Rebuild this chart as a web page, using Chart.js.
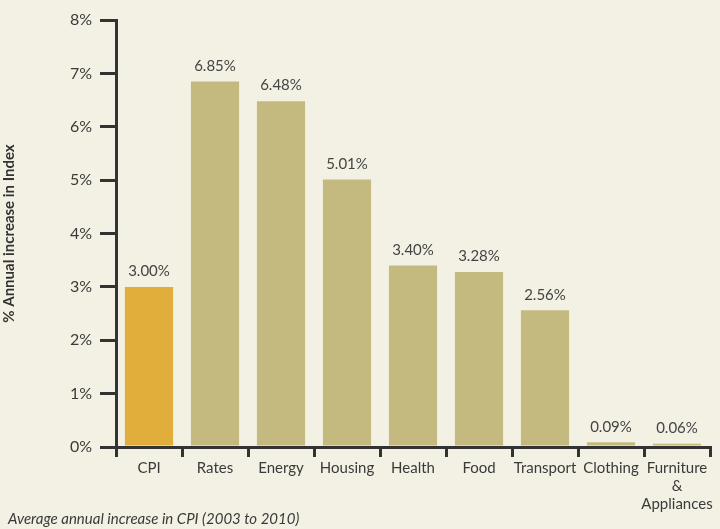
<!DOCTYPE html>
<html lang="en">
<head>
  <meta charset="UTF-8">
  <title>Average annual increase in CPI</title>
  <script src="https://cdn.jsdelivr.net/npm/chart.js"></script>
  <style>
    html, body {
      margin: 0;
      padding: 0;
      background-color: #f3f1e4;
    }
    #wrap {
      position: relative;
      width: 720px;
      height: 529px;
    }
    #caption {
      position: absolute;
      left: 8px;
      top: 509px;
      font-family: Lato, sans-serif;
      font-style: italic;
      font-size: 15px;
      color: #3a3a3a;
    }
  </style>
</head>
<body>
  <div id="wrap">
    <canvas id="cpiChart" width="720" height="529"></canvas>
    <div id="caption">Average annual increase in CPI (2003 to 2010)</div>
  </div>

  <script>
    const categories = ['CPI', 'Rates', 'Energy', 'Housing', 'Health', 'Food', 'Transport', 'Clothing', ['Furniture', '&', 'Appliances']];
    const increases = [3.00, 6.85, 6.48, 5.01, 3.40, 3.28, 2.56, 0.09, 0.06];
    const valueLabels = ['3.00%', '6.85%', '6.48%', '5.01%', '3.40%', '3.28%', '2.56%', '0.09%', '0.06%'];
    const barColors = ['#e1ae3b', '#c4ba80', '#c4ba80', '#c4ba80', '#c4ba80', '#c4ba80', '#c4ba80', '#c4ba80', '#c4ba80'];

    const ink = '#333333';
    const font = 'Lato, sans-serif';

    // value labels above each bar
    const barLabels = {
      id: 'barLabels',
      afterDatasetsDraw(chart) {
        const ctx = chart.ctx;
        const meta = chart.getDatasetMeta(0);
        ctx.save();
        ctx.font = '15px ' + font;
        ctx.fillStyle = '#444';
        ctx.textAlign = 'center';
        ctx.textBaseline = 'bottom';
        meta.data.forEach((bar, i) => {
          ctx.fillText(valueLabels[i], bar.x, bar.y - 8);
        });
        ctx.restore();
      }
    };

    const ctx = document.getElementById('cpiChart').getContext('2d');
    new Chart(ctx, {
      type: 'bar',
      data: {
        labels: categories,
        datasets: [{
          data: increases,
          backgroundColor: barColors,
          barPercentage: 0.73,
          categoryPercentage: 1.0
        }]
      },
      options: {
        responsive: false,
        animation: false,
        layout: {
          padding: { top: 20, right: 10, left: 0, bottom: 14 }
        },
        plugins: {
          legend: { display: false },
          tooltip: { enabled: false }
        },
        scales: {
          x: {
            grid: {
              offset: true,
              drawOnChartArea: false,
              drawTicks: true,
              tickLength: 10,
              tickColor: ink,
              lineWidth: 3
            },
            border: { display: true, color: ink, width: 3 },
            ticks: {
              color: '#3a3a3a',
              font: { family: font, size: 15 },
              padding: 2,
              maxRotation: 0,
              autoSkip: false
            }
          },
          y: {
            min: 0,
            max: 8,
            afterFit(scale) { scale.width = 116; },
            grid: {
              drawOnChartArea: false,
              drawTicks: true,
              tickLength: 16,
              tickColor: ink,
              lineWidth: 3
            },
            border: { display: true, color: ink, width: 3 },
            ticks: {
              stepSize: 1,
              color: '#3a3a3a',
              font: { family: font, size: 16 },
              padding: 8,
              callback: v => v + '%'
            },
            title: {
              display: true,
              text: '% Annual increase in Index',
              color: '#333',
              font: { family: font, size: 15, weight: 'bold' },
              padding: { top: 0, bottom: 20 }
            }
          }
        }
      },
      plugins: [barLabels]
    });
  </script>
</body>
</html>
